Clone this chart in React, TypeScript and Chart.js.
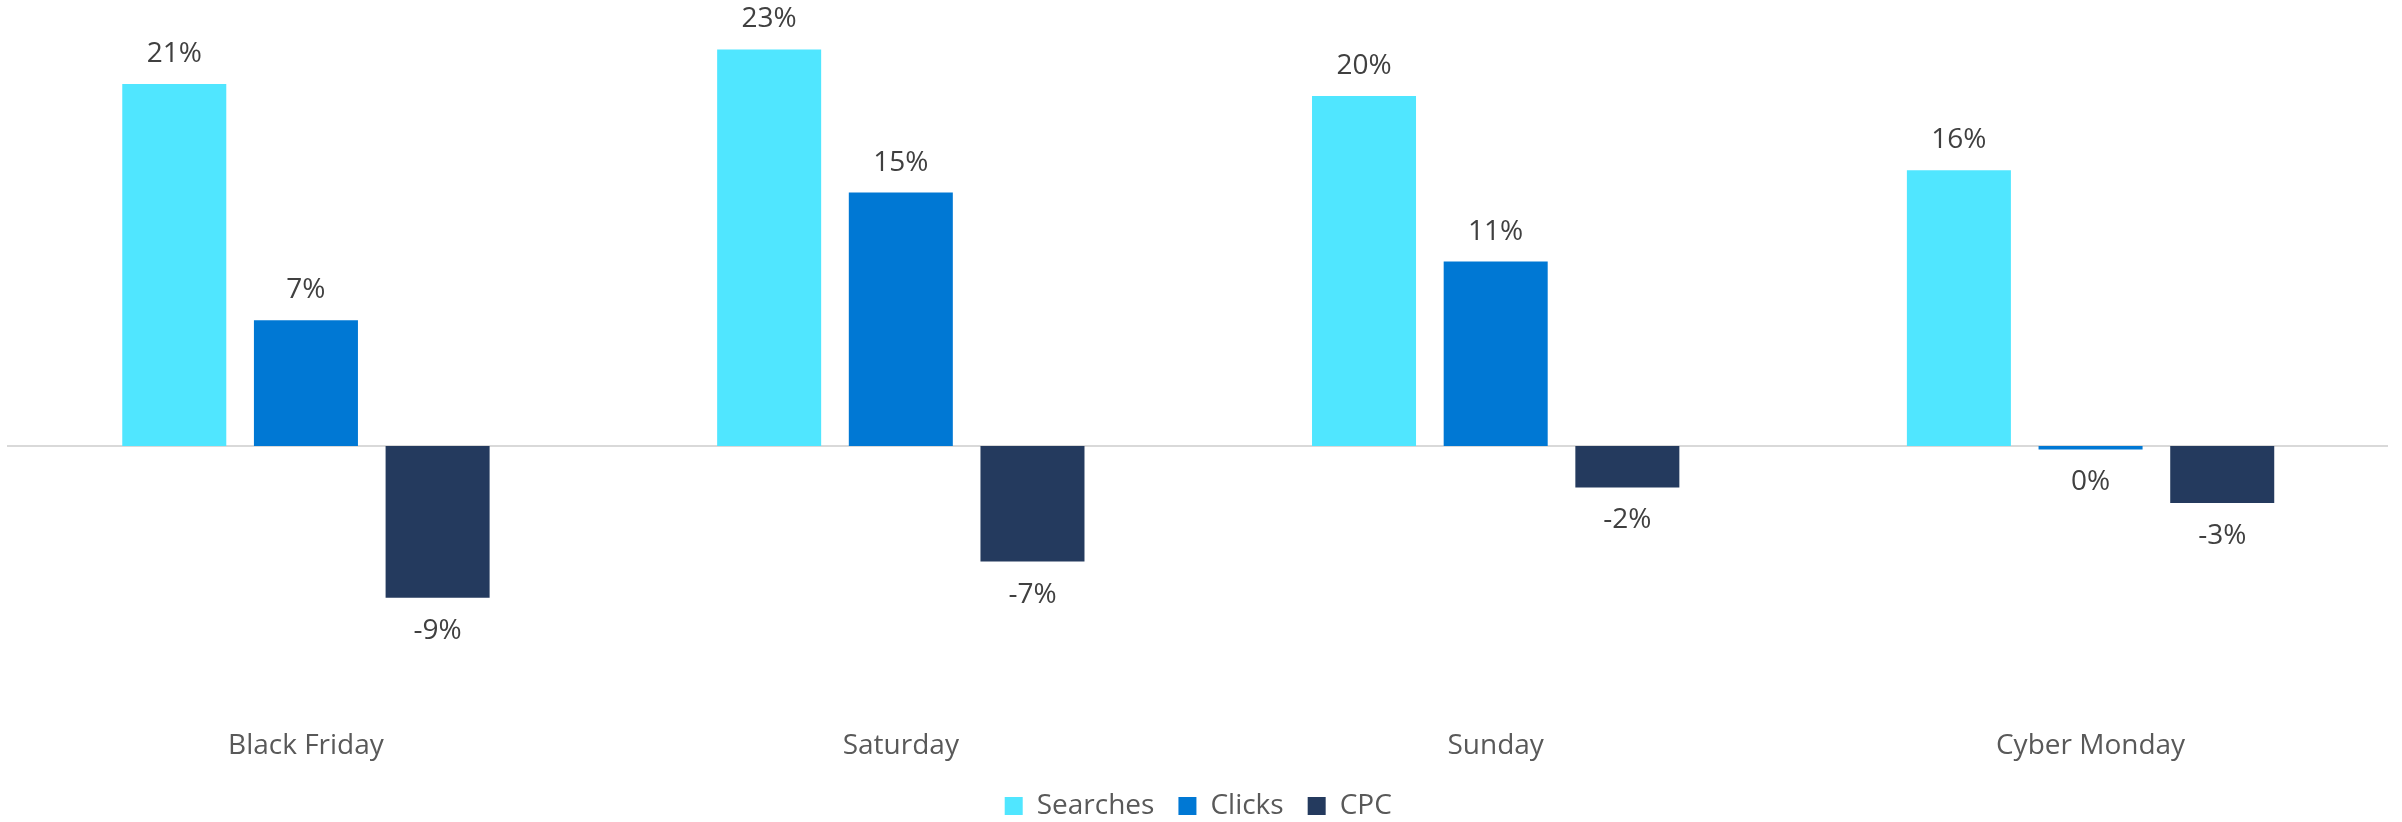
import React, { useEffect, useRef } from "react";
import { Chart, registerables } from "chart.js";

Chart.register(...registerables);

const categories = ["Black Friday", "Saturday", "Sunday", "Cyber Monday"];
const searches = [21, 23, 20.3, 16];
const clicks = [7.3, 14.7, 10.7, -0.2];
const cpc = [-8.8, -6.7, -2.4, -3.3];
const seriesNames = ["Searches", "Clicks", "CPC"];
const seriesColors = ["#50E6FF", "#0078D4", "#243A5E"];

const FONT = "'Open Sans', 'DejaVu Sans', sans-serif";

const zeroLinePlugin = {
  id: "zeroLine",
  beforeDatasetsDraw(chart: any) {
    const { ctx, chartArea, scales } = chart;
    const y = scales.y.getPixelForValue(0);
    ctx.save();
    ctx.strokeStyle = "#d9d9d9";
    ctx.lineWidth = 2;
    ctx.beginPath();
    ctx.moveTo(chartArea.left - 1.5, y);
    ctx.lineTo(chartArea.right, y);
    ctx.stroke();
    ctx.restore();
  },
};

const dataLabelPlugin = {
  id: "dataLabels",
  afterDatasetsDraw(chart: any) {
    const { ctx } = chart;
    ctx.save();
    ctx.font = `28px ${FONT}`;
    ctx.fillStyle = "#404040";
    ctx.textAlign = "center";
    ctx.textBaseline = "middle";
    chart.data.datasets.forEach((ds: any, i: number) => {
      const meta = chart.getDatasetMeta(i);
      meta.data.forEach((el: any, j: number) => {
        const v = ds.data[j] as number;
        const txt = `${Math.round(v) === 0 ? 0 : Math.round(v)}%`;
        const y = v >= 0 ? el.y - 30 : el.y + 33;
        ctx.fillText(txt, el.x, y);
      });
    });
    ctx.restore();
  },
};

export default function App() {
  const ref = useRef<HTMLCanvasElement>(null);
  useEffect(() => {
    document.body.style.margin = "0";
    const chart = new Chart(ref.current!, {
      type: "bar",
      data: {
        labels: categories,
        datasets: [searches, clicks, cpc].map((d, i) => ({
          label: seriesNames[i],
          data: d,
          backgroundColor: seriesColors[i],
          borderWidth: 0,
          categoryPercentage: 0.664,
          barPercentage: 0.79,
        })),
      },
      options: {
        responsive: false,
        animation: false,
        layout: { padding: { left: 8.5, right: 14, top: 15, bottom: 0 } },
        plugins: {
          legend: {
            position: "bottom",
            labels: {
              boxWidth: 18,
              boxHeight: 18,
              padding: 24,
              color: "#595959",
              font: { family: FONT, size: 28 },
            },
          },
          tooltip: { enabled: false },
        },
        scales: {
          x: {
            grid: { display: false },
            border: { display: false },
            ticks: { color: "#595959", padding: 5, font: { family: FONT, size: 28 } },
          },
          y: {
            display: false,
            min: -15.68,
            max: 25,
          },
        },
      },
      plugins: [zeroLinePlugin, dataLabelPlugin],
    });
    return () => chart.destroy();
  }, []);
  return (
    <div style={{ width: 2402, height: 822, overflow: "hidden", background: "#fff" }}>
      <canvas ref={ref} width={2402} height={830} style={{ display: "block" }} />
    </div>
  );
}
